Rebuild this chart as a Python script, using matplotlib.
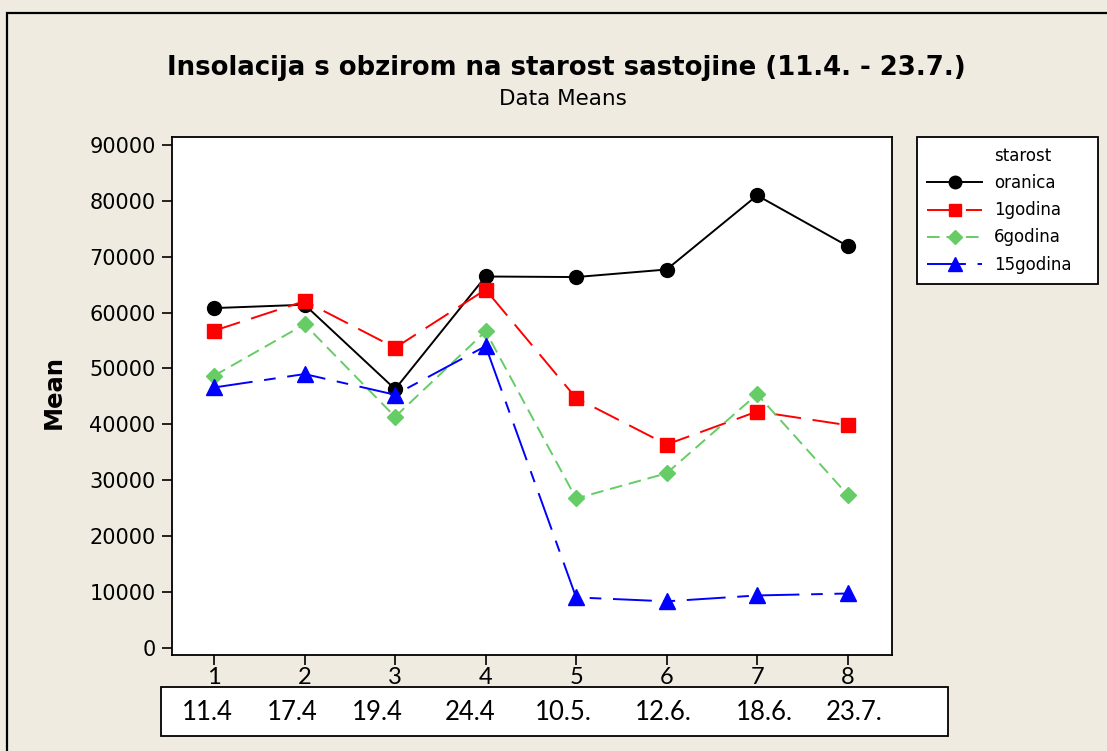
import matplotlib
matplotlib.use("Agg")
import matplotlib.pyplot as plt
from matplotlib.lines import Line2D
from matplotlib.patches import Rectangle

# data
points = [1, 2, 3, 4, 5, 6, 7, 8]
dates = ["11.4", "17.4", "19.4", "24.4", "10.5.", "12.6.", "18.6.", "23.7."]
oranica = [60800, 61400, 46300, 66450, 66350, 67700, 80950, 71900]
godina1 = [56750, 62050, 53700, 64100, 44700, 36400, 42300, 39850]
godina6 = [48700, 57900, 41350, 56650, 26750, 31250, 45400, 27400]
godina15 = [46600, 49000, 45300, 54000, 9050, 8350, 9400, 9750]
yticks = [0, 10000, 20000, 30000, 40000, 50000, 60000, 70000, 80000, 90000]

bg = "#efebe1"
W, H = 1107, 751

fig = plt.figure(figsize=(W / 100, H / 100), dpi=100, facecolor=bg)
ax = fig.add_axes([172 / W, 1 - 655 / H, (892 - 172) / W, (655 - 137) / H])
ax.set_facecolor("white")

lw = 1.4
l1, = ax.plot(points, oranica, color="black", lw=lw, marker="o", ms=10, label="oranica")
l2, = ax.plot(points, godina1, color="#ff0000", lw=lw, marker="s", ms=9.5,
              dashes=(14, 6), label="1godina")
l3, = ax.plot(points, godina6, color="#66cc66", lw=lw, marker="D", ms=8,
              dashes=(6.5, 3.5), label="6godina")
l4, = ax.plot(points, godina15, color="#0000ff", lw=lw, marker="^", ms=11.5,
              dashes=(20, 6, 6, 6), label="15godina")

ax.set_xlim(0.535, 8.49)
ax.set_ylim(-1250, 91400)
ax.set_yticks(yticks)
ax.set_yticklabels([str(v) for v in yticks], fontsize=15, family="DejaVu Sans")
ax.set_xticks(points)
ax.set_xticklabels([str(p) for p in points], fontsize=17, family="Lato")
ax.tick_params(axis="y", direction="out", length=7.2, width=1.2, pad=4.6)
ax.tick_params(axis="x", direction="out", length=7.5, width=1.2, pad=1.5)
for s in ax.spines.values():
    s.set_linewidth(1.3)
ax.set_ylabel("Mean", fontsize=17.5, fontweight="bold")
ax.yaxis.set_label_coords(-0.147, 0.508)

fig.text(566 / W, 1 - 68 / H, "Insolacija s obzirom na starost sastojine (11.4. - 23.7.)",
         ha="center", va="center", fontsize=18.7, fontweight="bold")
fig.text(563 / W, 1 - 99 / H, "Data Means", ha="center", va="center", fontsize=15.5)

# legend, title kept as an empty entry so it lines up with the labels
blank = Line2D([], [], color="none")
leg = fig.legend([blank, l1, l2, l3, l4], ["starost", "oranica", "1godina", "6godina", "15godina"],
                 loc="upper left", bbox_to_anchor=(917 / W, 1 - 137 / H - 0.01, 181 / W, 0.01),
                 mode="expand", borderaxespad=0, fontsize=12, handlelength=3.3,
                 handletextpad=0.7, labelspacing=0.55, borderpad=0.6, markerscale=0.9,
                 fancybox=False, edgecolor="black", framealpha=1)
leg.get_frame().set_linewidth(1.3)

# outer border of the graph window
fig.add_artist(Rectangle((7 / W, -0.05), 1.2, 1 - 13 / H + 0.05, transform=fig.transFigure,
                         fill=False, edgecolor="black", lw=1.6, zorder=4))

# date table below the axis (labels typed in a row, not on the tick positions)
fig.add_artist(Rectangle((161 / W, 1 - 736 / H), (948 - 161) / W, (736 - 687) / H,
                         transform=fig.transFigure, facecolor="white", edgecolor="black",
                         lw=1.3, zorder=5))
date_left = [182, 267, 352, 445, 535, 635, 736, 826]
for x, d in zip(date_left, dates):
    fig.text(x / W, 1 - 712 / H, d, ha="left", va="center",
             fontsize=18.5, family="Lato", zorder=6)

fig.savefig("out.png", dpi=100, facecolor=bg)
